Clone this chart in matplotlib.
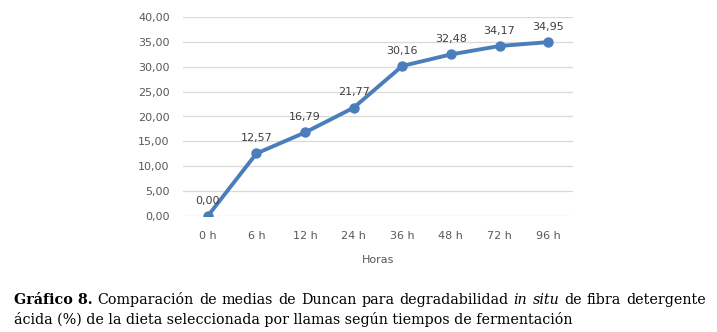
import matplotlib
matplotlib.use("Agg")
import matplotlib.pyplot as plt

categories = ["0 h", "6 h", "12 h", "24 h", "36 h", "48 h", "72 h", "96 h"]
values = [0.00, 12.57, 16.79, 21.77, 30.16, 32.48, 34.17, 34.95]
yticks = [0, 5, 10, 15, 20, 25, 30, 35, 40]
xlabel = "Horas"
cap_bold = "Gráfico 8."
cap_line1 = "Comparación de medias de Duncan para degradabilidad"
cap_italic = "in situ"
cap_line1b = "de fibra detergente"
cap_line2 = "ácida (%) de la dieta seleccionada por llamas según tiempos de fermentación"

W, H = 717, 332
fig = plt.figure(figsize=(W/100, H/100), dpi=100)
ax = fig.add_axes([183.5/W, 1-216/H, (572.5-183.5)/W, (216-17)/H])

grey = "#595959"
x = list(range(len(categories)))
ax.plot(x, values, color="#4A7EBB", lw=2.8, marker="o", ms=6.5,
        markerfacecolor="#4A7EBB", markeredgecolor="#4A7EBB", zorder=3)
for xi, v in zip(x, values):
    ax.annotate(f"{v:.2f}".replace(".", ","), (xi, v), xytext=(0, 7.5),
                textcoords="offset points", ha="center", va="bottom",
                fontsize=8, color="#404040")

ax.set_xlim(-0.5, len(categories)-0.5)
ax.set_ylim(0, 40)
ax.set_yticks(yticks)
ax.set_yticklabels([f"{t:.2f}".replace(".", ",") for t in yticks])
ax.set_xticks(x)
ax.set_xticklabels(categories)
ax.tick_params(axis="both", length=0, labelsize=8, labelcolor=grey)
ax.tick_params(axis="y", pad=10)
ax.tick_params(axis="x", pad=11)
ax.grid(axis="y", color="#D9D9D9", lw=0.9)
ax.set_axisbelow(True)
for s in ax.spines.values():
    s.set_visible(False)
ax.set_xlabel(xlabel, fontsize=8, color=grey, labelpad=10)

# caption with justified first line
fam = "DejaVu Serif"
renderer = fig.canvas.get_renderer()
left_px, right_px = 14, 706
y1 = 1 - 304/H
y2 = 1 - 324/H

# choose font size so that line 2 spans to ~x=578 px as in reference
probe = fig.text(0, 0, cap_line2, fontfamily=fam, fontsize=10)
pw = probe.get_window_extent(renderer).width
probe.remove()
fs = 10 * (578 - left_px) / pw

parts = [(cap_bold, "bold", "normal")]
for w in cap_line1.split():
    parts.append((w, "normal", "normal"))
for w in cap_italic.split():
    parts.append((w, "normal", "italic"))
for w in cap_line1b.split():
    parts.append((w, "normal", "normal"))

texts = []
total = 0
for s, wt, st in parts:
    t = fig.text(0, y1, s, fontfamily=fam, fontsize=fs, fontweight=wt,
                 fontstyle=st, va="baseline", ha="left", color="black")
    bb = t.get_window_extent(renderer)
    texts.append((t, bb.width))
    total += bb.width
gap = (right_px - left_px - total) / (len(parts) - 1)
cur = left_px
for t, w in texts:
    t.set_x(cur / W)
    cur += w + gap

fig.text(left_px / W, y2, cap_line2, fontfamily=fam, fontsize=fs,
         va="baseline", ha="left", color="black")

fig.savefig("out.png", dpi=100)
